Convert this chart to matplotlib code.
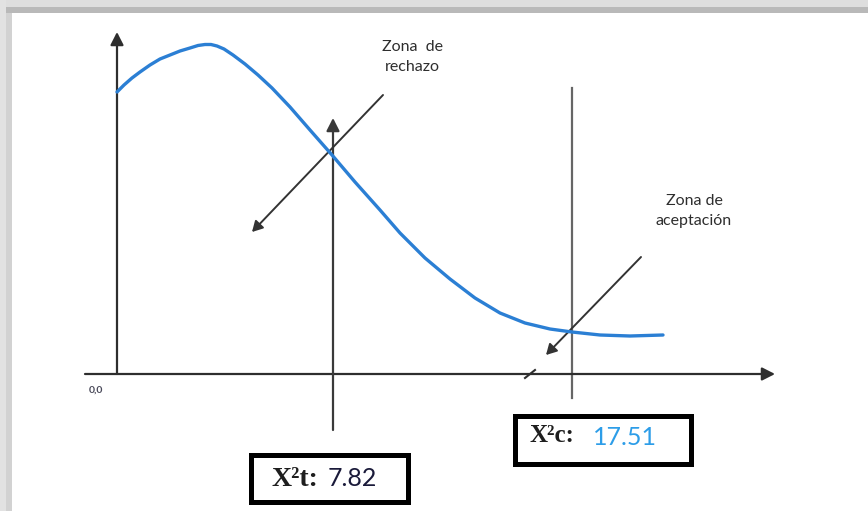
import matplotlib.pyplot as plt
from matplotlib.patches import Rectangle

# values (drawing units = pixels of the 868x511 image, y grows downward)
curve_x = [117, 124, 132, 140, 150, 160, 170, 180, 190, 198, 205, 211, 217, 224,
           233, 245, 258, 272, 290, 310, 332, 355, 380, 400, 425, 450, 475,
           500, 525, 550, 572, 600, 630, 663]
curve_y = [92, 85, 78, 72, 65, 59, 55, 51, 48, 45.5, 44.5, 44.5, 46, 49,
           55, 64, 75, 88, 107, 130, 155, 182, 210, 233, 258, 279, 298,
           313, 323, 329, 332, 335, 336, 335]

origin = (117, 374)
x_axis_end = 775
y_axis_top = 32
crit_t_x, crit_t_top, crit_t_bottom = 333, 118, 430
crit_c_x, crit_c_top, crit_c_bottom = 572, 88, 398
rech_arrow = [(383, 95), (252, 232)]
acep_arrow = [(641, 257), (546, 355)]
break_tick = [(525, 378), (535, 370)]

label_rechazo = "Zona  de\nrechazo"
label_aceptacion = "Zona de\naceptación"
origin_label = "0,0"
chi_t_label, chi_t_value = "X²t:", "7.82"
chi_c_label, chi_c_value = "X²c:", "17.51"

fig = plt.figure(figsize=(8.68, 5.11), dpi=100)
ax = fig.add_axes([0, 0, 1, 1])
ax.set_xlim(0, 868)
ax.set_ylim(511, 0)
ax.axis('off')

# shadow frame at top and left
ax.add_patch(Rectangle((0, 0), 868, 7, color='#dedede', lw=0))
ax.add_patch(Rectangle((0, 7), 868, 6, color='#b9b9b9', lw=0))
ax.add_patch(Rectangle((0, 0), 6, 511, color='#e2e2e2', lw=0))
ax.add_patch(Rectangle((6, 13), 6, 498, color='#d2d2d2', lw=0))

axis_col = '#2e2e2e'

def arrow(tail, tip, col=axis_col, lw=1.6, hl=0.55, hw=0.28):
    ax.annotate('', xy=tip, xytext=tail,
                arrowprops=dict(arrowstyle=f'-|>,head_length={hl},head_width={hw}',
                                mutation_scale=14, lw=lw, color=col,
                                shrinkA=0, shrinkB=0))

# axes
arrow((85, origin[1]), (x_axis_end, origin[1]))
arrow((origin[0], origin[1]), (origin[0], y_axis_top))
ax.plot(*zip(*break_tick), color=axis_col, lw=1.5)

# critical lines
arrow((crit_t_x, crit_t_bottom), (crit_t_x, crit_t_top), col='#3a3a3a')
ax.plot([crit_c_x, crit_c_x], [crit_c_top, crit_c_bottom], color='#666666', lw=1.6)

# zone pointers
arrow(rech_arrow[0], rech_arrow[1], col='#333333', lw=1.4, hl=0.45, hw=0.25)
arrow(acep_arrow[0], acep_arrow[1], col='#333333', lw=1.4, hl=0.45, hw=0.25)

# density curve
ax.plot(curve_x, curve_y, color='#2b7fd4', lw=2.4, solid_capstyle='round',
        solid_joinstyle='round', zorder=3)

txt_font = ['Lato', 'DejaVu Sans']
ax.text(412, 57, label_rechazo, ha='center', va='center', fontsize=11.5,
        family=txt_font, color='#2e2e2e', linespacing=1.5)
ax.text(694, 211, label_aceptacion, ha='center', va='center', fontsize=11.5,
        family=txt_font, color='#2e2e2e', linespacing=1.5)
ax.text(96, 390, origin_label, ha='center', va='center', fontsize=7.5,
        family=txt_font, color='#4a4a5a', fontweight='bold')

# value boxes
ax.add_patch(Rectangle((250.5, 455.5), 157, 47, fill=False, ec='black', lw=3.6))
ax.add_patch(Rectangle((514.5, 416.5), 176, 48, fill=False, ec='black', lw=3.6))

ax.text(272, 486, chi_t_label, ha='left', va='baseline', fontsize=20,
        family='Liberation Serif', fontweight='bold', color='#1e1e1e')
ax.text(328, 486, chi_t_value, ha='left', va='baseline', fontsize=18,
        family=txt_font, color='#1a1a3a')
ax.text(529, 442, chi_c_label, ha='left', va='baseline', fontsize=18,
        family='Liberation Serif', fontweight='bold', color='#1e1e1e')
ax.text(593, 445, chi_c_value, ha='left', va='baseline', fontsize=18,
        family=txt_font, color='#2d9de8')

fig.savefig('out.png', dpi=100)
